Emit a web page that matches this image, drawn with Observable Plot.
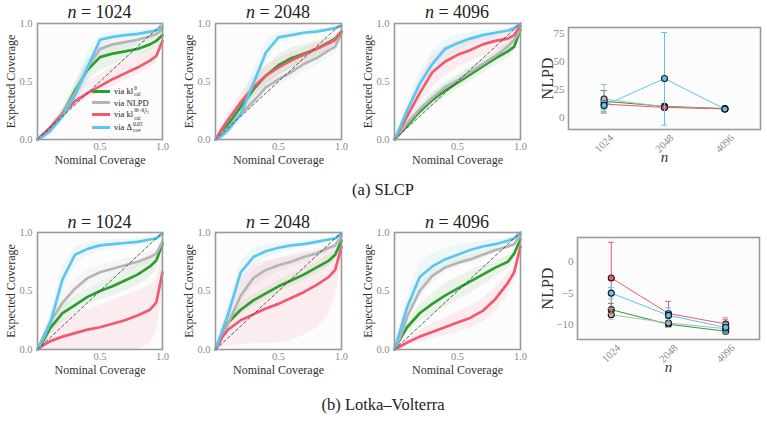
<!DOCTYPE html>
<html><head><meta charset="utf-8">
<script src="https://cdn.jsdelivr.net/npm/d3@7"></script>
<script src="https://cdn.jsdelivr.net/npm/@observablehq/plot@0.6"></script>
<style>
body{margin:0;background:#fff;}
#root{position:relative;width:767px;height:421px;overflow:hidden;font-family:"Liberation Serif",serif;color:#222;}
.abs{position:absolute;}
.abs svg{max-width:none;overflow:visible;}
.abs svg, .abs svg text, .abs svg g{font-family:"Liberation Serif",serif !important;}
.title{font-size:18px;transform:translate(-50%,-50%);white-space:nowrap;}
.caption{font-size:16.5px;transform:translate(-50%,-50%);white-space:nowrap;}
.leg{font-size:8.5px;white-space:nowrap;display:flex;align-items:center;height:11px;}
.leg .sw{display:inline-block;width:18px;height:3px;margin-right:4px;}
.ss{display:inline-flex;flex-direction:column;font-size:5.5px;line-height:5.5px;vertical-align:middle;margin-left:1px;}
</style></head><body><div id="root"></div><script>
// ---------- data ----------
const nominal = [0, 0.05, 0.1, 0.2, 0.3, 0.4, 0.5, 0.6, 0.7, 0.8, 0.9, 0.95, 1];
const panelTitles = ["1024", "2048", "4096"];
const nLabels = ["1024", "2048", "4096"];
const methodNames = ["klTheta", "nlpd", "klDist", "deltaCov"];

// SLCP coverage
const slcp1024 = {
  klTheta:  {mean:[0,.05,.1,.22,.42,.6,.71,.74,.76,.78,.82,.85,.9], lo:[0,.04,.08,.18,.35,.5,.6,.64,.68,.72,.76,.8,.87], hi:[0,.06,.12,.26,.48,.68,.8,.82,.84,.86,.88,.9,.93]},
  nlpd:     {mean:[0,.05,.1,.22,.4,.62,.78,.82,.84,.86,.89,.91,.95], lo:[0,.04,.08,.18,.34,.55,.7,.75,.78,.81,.85,.88,.93], hi:[0,.06,.12,.26,.46,.68,.83,.86,.88,.9,.92,.94,.97]},
  klDist:   {mean:[0,.05,.1,.22,.33,.4,.46,.52,.57,.62,.68,.72,.85], lo:[0,.04,.08,.18,.28,.35,.41,.46,.51,.56,.62,.66,.8], hi:[0,.06,.12,.26,.4,.5,.56,.62,.67,.72,.78,.8,.9]},
  deltaCov: {mean:[0,.03,.07,.2,.38,.62,.86,.885,.9,.91,.93,.94,.97], lo:[0,.02,.05,.16,.3,.5,.8,.85,.87,.88,.9,.92,.96], hi:[0,.05,.1,.25,.48,.75,.9,.92,.93,.94,.95,.96,.98]}
};
const slcp2048 = {
  klTheta:  {mean:[0,.06,.13,.28,.43,.55,.64,.7,.74,.78,.84,.87,.93], lo:[0,.04,.1,.22,.36,.46,.55,.61,.66,.71,.78,.82,.9], hi:[0,.08,.16,.34,.5,.63,.73,.79,.82,.85,.88,.9,.95]},
  nlpd:     {mean:[0,.05,.1,.22,.33,.45,.52,.58,.65,.7,.77,.8,.92], lo:[0,.04,.08,.18,.28,.39,.46,.52,.58,.63,.7,.74,.88], hi:[0,.06,.12,.26,.38,.51,.58,.64,.71,.76,.82,.85,.95]},
  klDist:   {mean:[0,.09,.17,.32,.45,.55,.62,.68,.73,.78,.83,.86,.93], lo:[0,.06,.12,.25,.37,.47,.55,.61,.67,.72,.78,.82,.9], hi:[0,.12,.22,.4,.54,.64,.7,.75,.79,.83,.87,.89,.95]},
  deltaCov: {mean:[0,.03,.08,.22,.48,.75,.88,.9,.92,.93,.95,.96,.98], lo:[0,.02,.05,.15,.36,.65,.83,.86,.89,.91,.93,.95,.97], hi:[0,.05,.12,.3,.6,.85,.92,.93,.94,.95,.96,.97,.99]}
};
const slcp4096 = {
  klTheta:  {mean:[0,.06,.12,.24,.34,.42,.49,.56,.63,.7,.76,.8,.95], lo:[0,.04,.09,.19,.28,.36,.43,.5,.57,.64,.7,.75,.92], hi:[0,.08,.15,.29,.4,.48,.55,.62,.69,.76,.82,.86,.97]},
  nlpd:     {mean:[0,.07,.14,.26,.36,.45,.51,.58,.65,.72,.8,.86,.95], lo:[0,.05,.11,.22,.32,.41,.47,.54,.61,.68,.76,.82,.93], hi:[0,.09,.17,.3,.4,.49,.55,.62,.69,.76,.84,.89,.97]},
  klDist:   {mean:[0,.1,.2,.4,.58,.67,.73,.77,.82,.85,.87,.9,.98], lo:[0,.07,.14,.3,.45,.55,.62,.67,.72,.77,.8,.84,.96], hi:[0,.14,.27,.52,.72,.8,.85,.88,.9,.92,.93,.94,.99]},
  deltaCov: {mean:[0,.12,.25,.48,.65,.78,.83,.87,.9,.92,.94,.96,1], lo:[0,.08,.18,.38,.55,.68,.76,.81,.85,.88,.91,.94,.99], hi:[0,.16,.32,.58,.76,.86,.9,.92,.94,.95,.96,.97,1]}
};
// Lotka–Volterra coverage
const lv1024 = {
  klTheta:  {mean:[0,.08,.18,.31,.38,.45,.5,.54,.59,.64,.71,.76,.9], lo:[0,.05,.13,.24,.31,.38,.42,.46,.5,.55,.62,.68,.86], hi:[0,.11,.23,.38,.45,.52,.58,.63,.68,.73,.79,.83,.93]},
  nlpd:     {mean:[0,.12,.23,.4,.52,.61,.66,.69,.72,.75,.79,.82,.92], lo:[0,.09,.18,.32,.44,.53,.59,.63,.66,.7,.74,.77,.88], hi:[0,.15,.28,.48,.6,.68,.72,.75,.78,.8,.84,.87,.95]},
  klDist:   {mean:[0,.04,.07,.11,.14,.17,.19,.22,.25,.29,.34,.4,.66], lo:[0,0,0,0,0,0,0,0,0,0,.05,.15,.45], hi:[0,.1,.18,.26,.3,.34,.38,.42,.46,.5,.55,.6,.85]},
  deltaCov: {mean:[0,.1,.22,.6,.81,.86,.89,.9,.91,.92,.94,.95,.99], lo:[0,.07,.15,.48,.72,.8,.84,.86,.87,.89,.91,.93,.98], hi:[0,.14,.3,.72,.88,.91,.93,.94,.94,.95,.96,.97,1]}
};
const lv2048 = {
  klTheta:  {mean:[0,.12,.23,.34,.42,.48,.54,.59,.64,.7,.76,.81,.93], lo:[0,.09,.19,.29,.37,.43,.49,.54,.59,.65,.71,.77,.9], hi:[0,.15,.27,.39,.47,.53,.59,.64,.69,.75,.81,.85,.95]},
  nlpd:     {mean:[0,.1,.22,.46,.61,.68,.72,.75,.79,.82,.87,.89,.97], lo:[0,.07,.17,.38,.53,.61,.66,.7,.74,.78,.83,.86,.95], hi:[0,.13,.27,.54,.68,.74,.78,.81,.84,.86,.9,.92,.98]},
  klDist:   {mean:[0,.1,.17,.25,.3,.35,.39,.44,.49,.55,.62,.68,.88], lo:[0,.02,.03,.04,.05,.05,.06,.08,.12,.18,.3,.45,.75], hi:[0,.2,.35,.6,.72,.76,.78,.8,.82,.84,.86,.88,.95]},
  deltaCov: {mean:[0,.15,.3,.66,.79,.84,.87,.89,.9,.92,.94,.95,.99], lo:[0,.1,.22,.56,.71,.78,.82,.85,.87,.89,.92,.94,.98], hi:[0,.2,.38,.76,.86,.89,.91,.92,.93,.94,.95,.96,1]}
};
const lv4096 = {
  klTheta:  {mean:[0,.1,.19,.31,.39,.46,.52,.58,.64,.7,.75,.82,.94], lo:[0,.07,.14,.24,.3,.36,.42,.48,.55,.62,.69,.77,.92], hi:[0,.13,.24,.38,.48,.56,.62,.67,.72,.76,.8,.85,.96]},
  nlpd:     {mean:[0,.12,.28,.5,.63,.7,.74,.77,.81,.85,.88,.9,.98], lo:[0,.09,.23,.44,.57,.65,.7,.73,.77,.82,.86,.88,.97], hi:[0,.15,.33,.56,.68,.74,.78,.81,.84,.87,.9,.92,.99]},
  klDist:   {mean:[0,.03,.06,.11,.15,.19,.23,.27,.33,.43,.57,.66,.88], lo:[0,.01,.03,.06,.09,.12,.15,.18,.23,.32,.47,.58,.84], hi:[0,.05,.09,.16,.22,.27,.32,.37,.43,.53,.65,.72,.92]},
  deltaCov: {mean:[0,.18,.36,.62,.71,.77,.81,.85,.88,.9,.93,.95,1], lo:[0,.12,.26,.5,.6,.68,.73,.78,.82,.86,.9,.93,.99], hi:[0,.24,.46,.74,.82,.86,.89,.91,.93,.94,.95,.96,1]}
};

// NLPD (means and error-bar ends), per n = 1024, 2048, 4096
const nlpdSLCP = {
  klTheta:  {mean:[14.5, 10, 8],    lo:[5, 8, 7],       hi:[24, 12, 9]},
  nlpd:     {mean:[16.5, 9.5, 7.6], lo:[3.6, 7.5, 6.8], hi:[29.5, 11.5, 8.4]},
  klDist:   {mean:[12, 9, 7.8],     lo:[9, 7.5, 7],     hi:[15, 10.5, 8.6]},
  deltaCov: {mean:[10.7, 34.8, 7.5],lo:[7, -6.8, 6.8],  hi:[14.5, 75.9, 8.2]}
};
const nlpdLV = {
  klTheta:  {mean:[-7.6, -9.9, -11.0], lo:[-8.6, -10.3, -11.4], hi:[-6.6, -9.5, -10.6]},
  nlpd:     {mean:[-8.4, -9.7, -10.6], lo:[-9.1, -10.4, -11.3], hi:[-7.4, -9.0, -8.8]},
  klDist:   {mean:[-2.6, -8.2, -9.85], lo:[-8.2, -9.6, -10.4], hi:[3.0, -6.3, -9.1]},
  deltaCov: {mean:[-5.0, -8.5, -10.4], lo:[-5.9, -9.7, -11.0], hi:[-4.1, -7.3, -9.8]}
};

// ---------- drawing ----------
const COLORS = {klTheta:"#2e9e2e", nlpd:"#b5b5b5", klDist:"#ef5a70", deltaCov:"#5cc6ee"};
const FONT = "'Liberation Serif', serif";
const TICK = "#8a8a8a";
const root = document.getElementById("root");

function place(node, left, top, w) {
  const d = document.createElement("div");
  d.className = "abs"; d.style.left = left + "px"; d.style.top = top + "px";
  if (w) d.style.width = w + "px";
  d.appendChild(node); root.appendChild(d); return d;
}
function html(cls, left, top, inner) {
  const d = document.createElement("div");
  d.className = "abs " + cls; d.style.left = left + "px"; d.style.top = top + "px";
  d.innerHTML = inner; root.appendChild(d); return d;
}

function coverage(panel, r) {
  const ML = 40, MR = 6, MT = 6, MB = 32;
  const W = r.w + ML + MR, H = r.h + MT + MB;
  const marks = [Plot.frame({fill:"#fcfcfc"})];
  for (const m of methodNames) {
    const s = panel[m];
    const rows = nominal.map((x, i) => ({x, lo: s.lo[i], hi: s.hi[i]}));
    marks.push(Plot.areaY(rows, {x:"x", y1:"lo", y2:"hi", fill: COLORS[m], fillOpacity: 0.09}));
  }
  for (const m of methodNames) {
    const s = panel[m];
    const rows = nominal.map((x, i) => ({x, y: s.mean[i]}));
    marks.push(Plot.line(rows, {x:"x", y:"y", stroke: COLORS[m], strokeWidth: 2.7, curve: "linear"}));
  }
  marks.push(Plot.line(nominal, {x: d => d, y: d => d, stroke:"#333", strokeWidth: 0.8, strokeDasharray:"3,2.5"}));
  marks.push(Plot.frame({stroke:"#9a9a9a", strokeWidth: 1.6}));
  marks.push(Plot.axisX([0.5, 1], {tickSize: 0, tickPadding: 3, tickFormat: ".1f", fill: TICK, fontSize: 10.5, fontFamily: FONT, label: null}));
  marks.push(Plot.axisY([0, 0.5, 1], {tickSize: 0, tickPadding: 5, tickFormat: ".1f", fill: TICK, fontSize: 10.5, fontFamily: FONT, label: null}));
  marks.push(Plot.text(["Nominal Coverage"], {text: d => d, frameAnchor: "bottom", dy: 24, textAnchor: "middle", fill: "#333", fontSize: 12, fontFamily: FONT}));
  marks.push(Plot.text(["Expected Coverage"], {text: d => d, frameAnchor: "left", dx: -26, rotate: -90, textAnchor: "middle", lineAnchor: "middle", fill: "#333", fontSize: 12, fontFamily: FONT}));
  const svg = Plot.plot({
    width: W, height: H, marginLeft: ML, marginRight: MR, marginTop: MT, marginBottom: MB,
    x: {domain: [0, 1]}, y: {domain: [0, 1]},
    style: {fontFamily: FONT, background: "transparent", overflow: "visible"},
    marks
  });
  place(svg, r.x - ML, r.y - MT, W);
}

function nlpdPlot(series, r, yDomain, yTicks, labelDx) {
  const ML = 44, MR = 4, MT = 6, MB = 42;
  const W = r.w + ML + MR, H = r.h + MT + MB;
  const idx = nLabels.map((_, i) => i);
  const cap = 0.05;
  const marks = [Plot.frame({fill:"#fcfcfc"})];
  for (const m of methodNames) {
    const s = series[m];
    const rows = idx.map(i => ({i, mean: s.mean[i], lo: s.lo[i], hi: s.hi[i]}));
    marks.push(Plot.line(rows, {x:"i", y:"mean", stroke: COLORS[m], strokeWidth: 1}));
    marks.push(Plot.ruleX(rows, {x:"i", y1:"lo", y2:"hi", stroke: COLORS[m], strokeWidth: 1}));
    marks.push(Plot.ruleY(rows, {x1: d => d.i - cap, x2: d => d.i + cap, y:"hi", stroke: COLORS[m], strokeWidth: 1}));
    marks.push(Plot.ruleY(rows, {x1: d => d.i - cap, x2: d => d.i + cap, y:"lo", stroke: COLORS[m], strokeWidth: 1}));
    marks.push(Plot.dot(rows, {x:"i", y:"mean", fill: COLORS[m], stroke:"#1a1a1a", strokeWidth: 1.1, r: 3}));
  }
  marks.push(Plot.frame({stroke:"#9a9a9a", strokeWidth: 1.6}));
  marks.push(Plot.axisY(yTicks, {tickSize: 0, tickPadding: 4, tickFormat: d3.format("d"), fill: TICK, fontSize: 11, fontFamily: FONT, label: null}));
  marks.push(Plot.text(idx, {x: i => i, text: i => nLabels[i], frameAnchor: "bottom", dy: 14, rotate: -45, textAnchor: "middle", lineAnchor: "middle", fill: TICK, fontSize: 10.5, fontFamily: FONT}));
  marks.push(Plot.text(["n"], {text: d => d, frameAnchor: "bottom", dy: 32, textAnchor: "middle", fontStyle: "italic", fill: "#333", fontSize: 15, fontFamily: FONT}));
  marks.push(Plot.text(["NLPD"], {text: d => d, frameAnchor: "left", dx: -labelDx, rotate: -90, textAnchor: "middle", lineAnchor: "middle", fill: "#333", fontSize: 16, fontFamily: FONT}));
  const svg = Plot.plot({
    width: W, height: H, marginLeft: ML, marginRight: MR, marginTop: MT, marginBottom: MB,
    x: {domain: [-0.59, 2.59], axis: null}, y: {domain: yDomain},
    style: {fontFamily: FONT, background: "transparent", overflow: "visible"},
    marks
  });
  place(svg, r.x - ML, r.y - MT, W);
}

const topRects = [{x:37,y:23,w:125,h:116},{x:215,y:23,w:126,h:116},{x:394,y:23,w:126,h:116}];
const botRects = [{x:37,y:232,w:125,h:117},{x:215,y:232,w:126,h:117},{x:394,y:232,w:126,h:117}];

[slcp1024, slcp2048, slcp4096].forEach((p, k) => coverage(p, topRects[k]));
[lv1024, lv2048, lv4096].forEach((p, k) => coverage(p, botRects[k]));

nlpdPlot(nlpdSLCP, {x:568,y:27,w:192,h:102}, [-10.7, 80.4], [0, 25, 50, 75], 21);
nlpdPlot(nlpdLV, {x:577,y:237,w:182,h:102}, [-12.3, 3.77], [-10, -5, 0], 30);

topRects.forEach((r, k) => html("title", r.x + r.w / 2, 12, "<i>n</i> = " + panelTitles[k]));
botRects.forEach((r, k) => html("title", r.x + r.w / 2, 222, "<i>n</i> = " + panelTitles[k]));

html("caption", 383, 190, "(a) SLCP");
html("caption", 383, 405, "(b) Lotka–Volterra");

// legend (top-left panel)
const legendItems = [
  ["klTheta", 'via kl<span class="ss"><span>θ</span><span>cal</span></span>'],
  ["nlpd", 'via NLPD'],
  ["klDist", 'via kl<span class="ss"><span>‖θ−θ<sub style="font-size:4px">t</sub>‖<sub style="font-size:4px">2</sub></span><span>cal</span></span>'],
  ["deltaCov", 'via Δ<span class="ss"><span>0.05</span><span>cov</span></span>']
];
const legTops = [86, 97, 109, 122];
legendItems.forEach(([m, label], k) => {
  html("leg", 92, legTops[k], '<span class="sw" style="background:' + COLORS[m] + '"></span><span>' + label + '</span>');
});
</script></body></html>
